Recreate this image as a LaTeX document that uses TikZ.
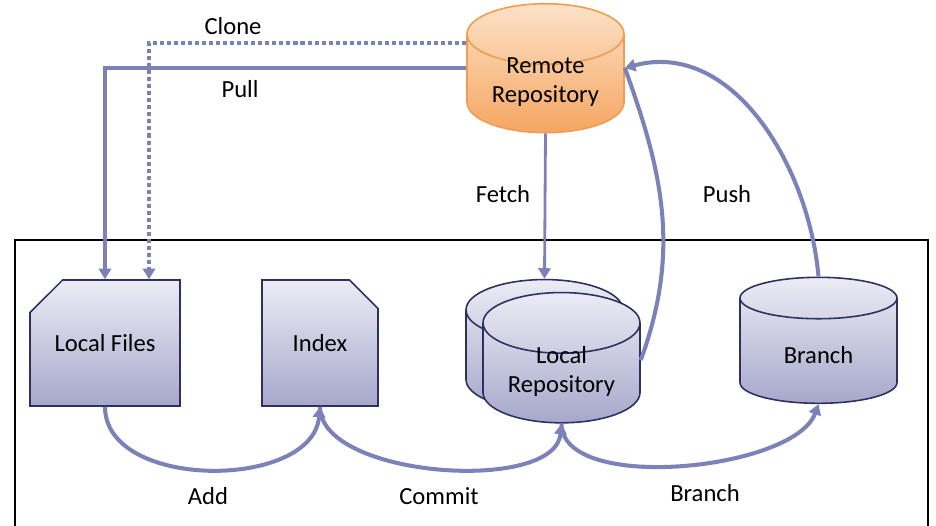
\documentclass[tikz,border=0pt]{standalone}
\usepackage{fontspec}
\setmainfont{Carlito}
\usetikzlibrary{shapes.geometric,shapes.misc,arrows.meta}

\definecolor{flow}{RGB}{124,130,184}
\definecolor{navy}{RGB}{46,48,96}
\definecolor{boxtop}{RGB}{236,236,245}
\definecolor{boxbot}{RGB}{166,168,203}
\definecolor{remtop}{RGB}{252,226,200}
\definecolor{rembot}{RGB}{245,166,98}
\definecolor{remline}{RGB}{238,158,80}

% raise a line of text inside a cylinder without changing its box
\newcommand{\liftline}[1]{\raisebox{4.3pt}[\height][\depth]{#1}}

\tikzset{
  sheet/.style={chamfered rectangle, draw=navy, line width=0.9pt,
    top color=boxtop, bottom color=boxbot,
    minimum width=3cm, minimum height=2.52cm, inner sep=0pt},
  store/.style={cylinder, shape border rotate=90, aspect=0.51,
    draw=navy, line width=0.9pt, top color=boxtop, bottom color=boxbot,
    minimum width=3.14cm, minimum height=2.52cm, inner ysep=0pt,
    align=center},
  remote/.style={store, draw=remline, top color=remtop, bottom color=rembot},
  flow/.style={draw=flow, line width=2.3pt,
    -{Triangle[width=7pt,length=6pt]}},
  flownotip/.style={draw=flow, line width=2.3pt},
  clone/.style={flow, dash pattern=on 2.3pt off 1.7pt},
  lbl/.style={inner sep=1pt}
}

\begin{document}
\begin{tikzpicture}[font=\fontsize{14}{16.5}\selectfont]
\useasboundingbox (0,0) rectangle (18.72,10.52);

% working copy frame, runs off the bottom
\draw[line width=1.4pt] (0.3,-1) rectangle (18.56,5.72);

% local side
\node[sheet, chamfered rectangle corners=north west,
  chamfered rectangle xsep=0.64cm, chamfered rectangle ysep=0.48cm]
  (files) at (2.1,3.66) {Local Files};
\node[sheet, minimum width=2.32cm, chamfered rectangle corners=north east,
  chamfered rectangle xsep=0.38cm, chamfered rectangle ysep=0.4cm]
  (index) at (6.4,3.66) {Index};
\node[store] (localback) at (10.89,3.20) {\phantom{Local}\\\phantom{Repository}};
\node[store] (localrepo) at (11.23,2.94) {\liftline{Local}\\\liftline{Repository}};
\node[store] (branch) at (16.37,3.42) {Branch};

% remote side
\node[remote] (remote) at (10.91,8.73) {\liftline{Remote}\\\liftline{Repository}};

% pull and clone
\draw[flow] ([yshift=0.43cm]remote.west) -| (files.north);
\draw[clone] ([yshift=0.93cm]remote.west) -| ([xshift=0.88cm]files.north);
\node[lbl] (clonelbl) at (4.66,10.0) {Clone};
\node[lbl] (pulllbl) at (4.8,8.74) {Pull};

% fetch and push
\draw[flow, line width=1.6pt] (remote.south) -- (localback.north);
\node[lbl] (fetchlbl) at (10.06,6.64) {Fetch};
\draw[flownotip] ([yshift=0.38cm]localrepo.east) to[out=70, in=-70] ([yshift=0.43cm]remote.east);
\draw[flow] (branch.north) to[out=95, in=15] ([yshift=0.43cm]remote.east);
\node[lbl] (pushlbl) at (14.54,6.64) {Push};

% add, commit, branch
\draw[flow] (files.south) to[out=-90, in=-95] (index.south);
\draw[flow] (index.south) to[out=-90, in=-95, looseness=0.75] (localrepo.south);
\draw[flow] (localrepo.south) to[out=-90, in=-110, looseness=0.7] (branch.south);
\node[lbl] (addlbl) at (4.16,0.6) {Add};
\node[lbl] (commitlbl) at (8.78,0.6) {Commit};
\node[lbl] (branchlbl) at (14.1,0.66) {Branch};
\end{tikzpicture}
\end{document}
